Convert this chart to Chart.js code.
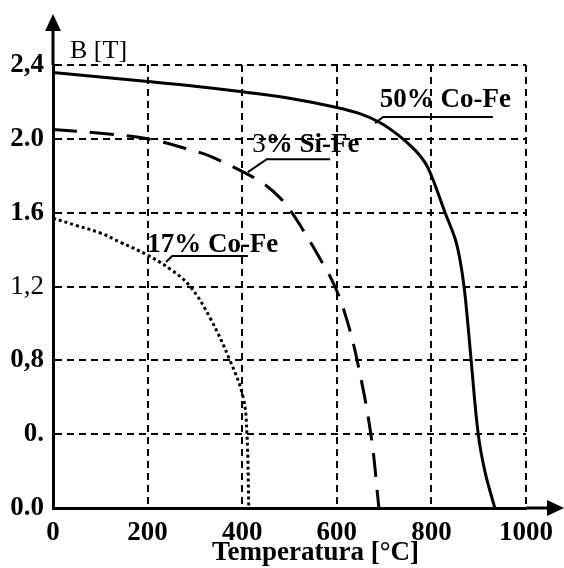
<!DOCTYPE html>
<html>
<head>
<meta charset="utf-8">
<script src="https://cdn.jsdelivr.net/npm/chart.js@4/dist/chart.umd.min.js"></script>
<style>
  html, body { margin: 0; padding: 0; background: #fff; }
  canvas { display: block; }
</style>
</head>
<body>
<canvas id="chart" width="564" height="568"></canvas>
<script>
// temperatura [°C] / B [T]
const coFe50Temp = [0, 100, 200, 300, 400, 500, 600, 650, 690, 730, 765, 787, 800, 812, 829, 850, 860, 869, 877, 884, 899, 913, 934];
const coFe50B    = [2.36, 2.335, 2.31, 2.285, 2.255, 2.22, 2.17, 2.135, 2.09, 2.02, 1.94, 1.87, 1.8, 1.72, 1.6, 1.46, 1.35, 1.2, 1.0, 0.8, 0.4, 0.2, 0];

const siFe3Temp = [0, 100, 200, 311, 338, 410, 444, 480, 505, 530, 558, 596, 620, 643, 672, 689];
const siFe3B    = [2.05, 2.03, 2.0, 1.925, 1.9, 1.81, 1.76, 1.68, 1.6, 1.5, 1.38, 1.2, 1.03, 0.8, 0.4, 0];

const coFe17Temp = [0, 50, 100, 142, 200, 250, 290, 332, 374, 402, 410, 414];
const coFe17B    = [1.57, 1.53, 1.49, 1.44, 1.37, 1.29, 1.2, 1.03, 0.8, 0.6, 0.4, 0];

const xTickValues = [0, 200, 400, 600, 800, 1000];
// y tick labels, bottom to top, as printed on the original
const yTickLabels = ['0.0', '0.', '0,8', '1,2', '1.6', '2.0', '2,4'];

const seriesNames = ['50% Co-Fe', '3% Si-Fe', '17% Co-Fe'];

function toPoints(xs, ys) {
  return xs.map((x, i) => ({ x: x, y: ys[i] }));
}

const serif = "'Liberation Serif', 'Times New Roman', serif";

// extra drawing: axis arrows, axis titles and the curve labels
const extras = {
  id: 'extras',
  afterDraw(chart) {
    const { ctx, chartArea, scales: { x, y } } = chart;
    const left = chartArea.left, bottom = chartArea.bottom;
    ctx.save();
    ctx.fillStyle = '#000';
    ctx.strokeStyle = '#000';

    // axis extensions + arrow heads
    ctx.lineWidth = 3;
    ctx.beginPath();
    ctx.moveTo(left, chartArea.top);
    ctx.lineTo(left, 28);
    ctx.moveTo(chartArea.right, bottom);
    ctx.lineTo(549, bottom);
    ctx.stroke();
    ctx.beginPath();
    ctx.moveTo(left, 14);
    ctx.lineTo(left - 8, 31);
    ctx.lineTo(left + 8, 31);
    ctx.closePath();
    ctx.fill();
    ctx.beginPath();
    ctx.moveTo(564, bottom);
    ctx.lineTo(547, bottom - 8);
    ctx.lineTo(547, bottom + 8);
    ctx.closePath();
    ctx.fill();

    // axis titles
    ctx.textBaseline = 'middle';
    ctx.textAlign = 'left';
    ctx.font = '26px ' + serif;
    ctx.fillText('B [T]', 70, 51);
    ctx.font = 'bold 27px ' + serif;
    ctx.fillText('Temperatura [°C]', 212, 553);

    // curve labels with leader lines
    const label = (parts, tx, ty, u0, u1, uy, px, py) => {
      let cx = x.getPixelForValue(tx);
      const cy = y.getPixelForValue(ty);
      parts.forEach(p => {
        ctx.font = (p.bold ? 'bold ' : '') + '27px ' + serif;
        ctx.fillText(p.text, cx, cy);
        cx += ctx.measureText(p.text).width;
      });
      ctx.lineWidth = 2;
      ctx.beginPath();
      ctx.moveTo(x.getPixelForValue(u1), y.getPixelForValue(uy));
      ctx.lineTo(x.getPixelForValue(u0), y.getPixelForValue(uy));
      ctx.lineTo(x.getPixelForValue(px), y.getPixelForValue(py));
      ctx.stroke();
    };
    label([{ text: seriesNames[0], bold: true }], 691, 2.21, 698, 930, 2.118, 681, 2.085);
    label([{ text: '3', bold: false }, { text: '% Si-Fe', bold: true }], 421, 1.966, 452, 586, 1.89, 412, 1.82);
    label([{ text: seriesNames[2], bold: true }], 199, 1.425, 252, 412, 1.365, 239, 1.333);
    ctx.restore();
  }
};

new Chart(document.getElementById('chart'), {
  type: 'line',
  data: {
    datasets: [
      {
        label: seriesNames[0],
        data: toPoints(coFe50Temp, coFe50B),
        borderColor: '#000',
        borderWidth: 3,
        pointRadius: 0,
        tension: 0.4
      },
      {
        label: seriesNames[1],
        data: toPoints(siFe3Temp, siFe3B),
        borderColor: '#000',
        borderWidth: 3,
        borderDash: [24, 13],
        pointRadius: 0,
        tension: 0.4
      },
      {
        label: seriesNames[2],
        data: toPoints(coFe17Temp, coFe17B),
        borderColor: '#000',
        borderWidth: 3,
        borderDash: [3, 3],
        pointRadius: 0,
        tension: 0.4
      }
    ]
  },
  options: {
    responsive: false,
    animation: false,
    layout: { padding: { top: 65, right: 38, left: 0, bottom: 0 } },
    plugins: {
      legend: { display: false },
      tooltip: { enabled: false }
    },
    scales: {
      x: {
        type: 'linear',
        min: 0,
        max: 1000,
        afterFit: s => { s.height = 60; },
        afterBuildTicks: s => { s.ticks = xTickValues.map(v => ({ value: v })); },
        grid: { color: '#000', lineWidth: 2, drawTicks: false },
        border: { display: true, color: '#000', width: 3, dash: [7, 5] },
        ticks: {
          autoSkip: false,
          maxRotation: 0,
          padding: 9,
          color: '#000',
          callback: value => String(value),
          font: { family: serif, size: 27, weight: 'bold' }
        }
      },
      y: {
        type: 'linear',
        min: 0,
        max: 2.4,
        afterFit: s => { s.width = 53; },
        grid: { color: '#000', lineWidth: 2, drawTicks: false },
        border: { display: true, color: '#000', width: 3, dash: [7, 5] },
        ticks: {
          stepSize: 0.4,
          autoSkip: false,
          padding: 9,
          color: '#000',
          callback: (value, index) => yTickLabels[index],
          font: ctx => ({
            family: serif,
            size: 27,
            weight: yTickLabels[ctx.index] === '1,2' ? 'normal' : 'bold'
          })
        }
      }
    }
  },
  plugins: [extras]
});
</script>
</body>
</html>
